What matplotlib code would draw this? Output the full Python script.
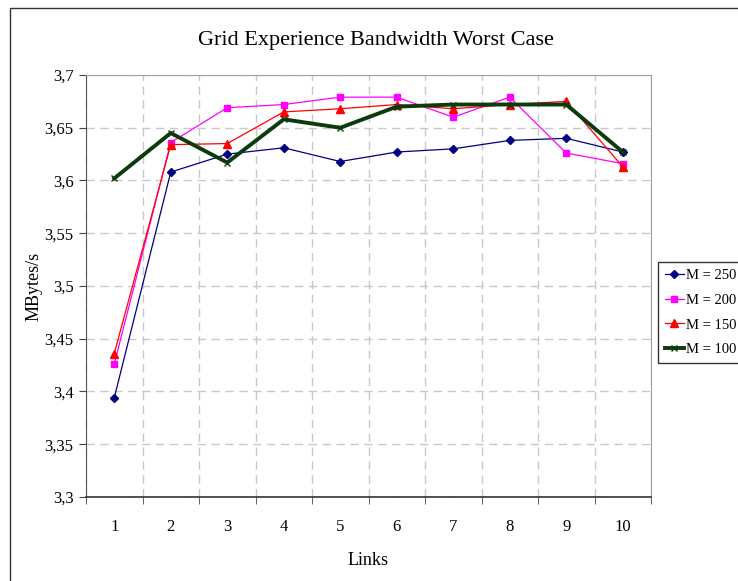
import matplotlib
matplotlib.use('Agg')
import matplotlib.pyplot as plt
from matplotlib.patches import Rectangle

plt.rcParams['font.family'] = 'Liberation Serif'

# Data
links = [1, 2, 3, 4, 5, 6, 7, 8, 9, 10]
m250 = [3.394, 3.608, 3.625, 3.631, 3.618, 3.627, 3.630, 3.638, 3.640, 3.627]
m200 = [3.426, 3.636, 3.669, 3.672, 3.679, 3.679, 3.660, 3.679, 3.626, 3.616]
m150 = [3.436, 3.634, 3.635, 3.665, 3.668, 3.672, 3.668, 3.672, 3.675, 3.613]
m100 = [3.602, 3.645, 3.617, 3.658, 3.650, 3.670, 3.672, 3.672, 3.672, 3.627]
yticks = [3.3, 3.35, 3.4, 3.45, 3.5, 3.55, 3.6, 3.65, 3.7]
ytick_labels = ['3,3', '3,35', '3,4', '3,45', '3,5', '3,55', '3,6', '3,65', '3,7']

fig = plt.figure(figsize=(7.38, 5.81), dpi=100)
ax = fig.add_axes([86/738, 1-497/581, (651-86)/738, (497-75)/581])

# chart area border
fig.patches.append(Rectangle((10/738, -0.1), 1.2, 1-8/581+0.1, transform=fig.transFigure,
                             fill=False, edgecolor='#333333', lw=1.0))

ax.plot(links, m250, color='#000080', lw=0.9, marker='D', ms=4, label='M = 250')
ax.plot(links, m200, color='#ff00ff', lw=0.9, marker='s', ms=5, label='M = 200')
ax.plot(links, m150, color='#ff0000', lw=0.9, marker='^', ms=5.5, label='M = 150')
ax.plot(links, m100, color='#0b3a0b', lw=2.8, marker='x', ms=4, mew=1, label='M = 100')

ax.set_xlim(0.5, 10.5)
ax.set_ylim(3.3, 3.7)
ax.set_xticks(links)
ax.set_xticklabels([str(v) for v in links], fontsize=12)
ax.set_xticks([v + 0.5 for v in range(0, 11)], minor=True)
ax.set_yticks(yticks)
ax.set_yticklabels(ytick_labels, fontsize=12)
ax.tick_params(axis='x', which='major', length=0, pad=16)
ax.tick_params(axis='x', which='minor', length=5, direction='out', color='#444444')
ax.tick_params(axis='y', length=5, direction='out', color='#444444', pad=4)

ax.grid(True, axis='y', which='major', color='#c8c8c8', ls=(0, (6, 4)), lw=1)
ax.grid(True, axis='x', which='minor', color='#c8c8c8', ls=(0, (6, 4)), lw=1)
ax.set_axisbelow(True)

ax.spines['left'].set_color('#555555')
ax.spines['bottom'].set_color('#333333')
ax.spines['bottom'].set_linewidth(1.2)
ax.spines['top'].set_color('#a0a0a0')
ax.spines['right'].set_color('#a0a0a0')

ax.set_xlabel('Links', fontsize=13, labelpad=12)
ax.set_ylabel('MBytes/s', fontsize=13, labelpad=1)
fig.text(376/738, 1-40/581, 'Grid Experience Bandwidth Worst Case', fontsize=16,
         ha='center', va='center')

leg = ax.legend(loc='upper left', bbox_to_anchor=(658/738, 1-262/581),
                bbox_transform=fig.transFigure, fontsize=10.5, frameon=True,
                fancybox=False, edgecolor='black', handlelength=1.3,
                handletextpad=0.2, borderpad=0.45, labelspacing=0.8,
                borderaxespad=0)
leg.get_frame().set_linewidth(1.0)

fig.savefig('out.png', dpi=100)
